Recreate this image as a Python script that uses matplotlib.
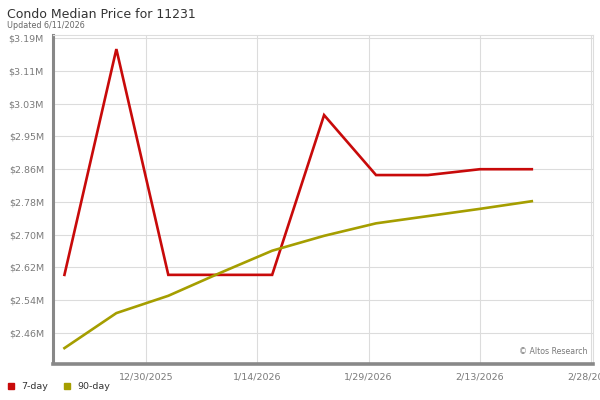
import datetime as dt
import matplotlib
matplotlib.use("Agg")
import matplotlib.pyplot as plt
import matplotlib.dates as mdates
from matplotlib.lines import Line2D

# weekly points
dates = [dt.date(2025, 12, 19), dt.date(2025, 12, 26), dt.date(2026, 1, 2),
         dt.date(2026, 1, 9), dt.date(2026, 1, 16), dt.date(2026, 1, 23),
         dt.date(2026, 1, 30), dt.date(2026, 2, 6), dt.date(2026, 2, 13),
         dt.date(2026, 2, 20)]
price_7day = [2.602, 3.163, 2.602, 2.602, 2.602, 2.999, 2.850, 2.850, 2.8645, 2.8645]
price_90day = [2.420, 2.507, 2.550, 2.607, 2.662, 2.699, 2.730, 2.748, 2.766, 2.785]

ytick_vals = [2.4575, 2.539, 2.6205, 2.702, 2.7835, 2.8645, 2.946, 3.0275, 3.109, 3.1905]
ytick_labels = ['$2.46M', '$2.54M', '$2.62M', '$2.70M', '$2.78M',
                '$2.86M', '$2.95M', '$3.03M', '$3.11M', '$3.19M']
xtick_dates = [dt.date(2025, 12, 30), dt.date(2026, 1, 14), dt.date(2026, 1, 29),
               dt.date(2026, 2, 13), dt.date(2026, 2, 28)]
xtick_labels = ['12/30/2025', '1/14/2026', '1/29/2026', '2/13/2026', '2/28/2026']

red = '#c80a0a'
olive = '#a59e00'
grey_txt = '#7a7a7a'

fig = plt.figure(figsize=(6, 4), dpi=100)
ax = fig.add_axes([53 / 600, 1 - 363 / 400, 540 / 600, 328 / 400])

ax.plot(dates, price_7day, color=red, lw=1.9, solid_joinstyle='miter', zorder=3)
ax.plot(dates, price_90day, color=olive, lw=1.9, zorder=3)

# axis limits
ax.set_xlim(mdates.date2num(dt.datetime(2025, 12, 17, 11)),
            mdates.date2num(dt.datetime(2026, 2, 28, 6)))
ax.set_ylim(2.383, 3.198)

ax.set_yticks(ytick_vals)
ax.set_yticklabels(ytick_labels)
ax.set_xticks([mdates.date2num(d) for d in xtick_dates])
ax.set_xticklabels(xtick_labels)
ax.tick_params(axis='both', length=0, labelsize=6.8, labelcolor=grey_txt)
ax.tick_params(axis='y', pad=6.5)
ax.tick_params(axis='x', pad=6)

ax.grid(True, color='#dcdcdc', lw=0.8)
ax.set_axisbelow(True)

# Rahmen
for s in ['top', 'right']:
    ax.spines[s].set_color('#dddddd')
    ax.spines[s].set_linewidth(0.8)
ax.spines['left'].set_color('#888888')
ax.spines['left'].set_linewidth(2.2)
ax.spines['bottom'].set_color('#888888')
ax.spines['bottom'].set_linewidth(2.6)
ax.spines['bottom'].set_position(('outward', 1))

ax.text(0.99, 0.02, '\u00a9 Altos Research', transform=ax.transAxes,
        ha='right', va='bottom', fontsize=5.7, color=grey_txt)

fig.text(7 / 600, 1 - 17.5 / 400, 'Condo Median Price for 11231', fontsize=9,
         color='#333333', ha='left', va='baseline')
fig.text(7 / 600, 1 - 28 / 400, 'Updated 6/11/2026', fontsize=5.8,
         color='#666666', ha='left', va='baseline')

handles = [Line2D([], [], marker='s', ls='', color=red, markersize=3.8),
           Line2D([], [], marker='s', ls='', color=olive, markersize=3.8)]
fig.legend(handles, ['7-day', '90-day'], loc='center left',
           bbox_to_anchor=(6 / 600, 1 - 386.5 / 400), ncol=2, frameon=False,
           fontsize=6.8, handlelength=1.0, handletextpad=0.6, columnspacing=1.5,
           labelcolor='#333333', borderaxespad=0, borderpad=0)

fig.savefig('out.png', dpi=100)
